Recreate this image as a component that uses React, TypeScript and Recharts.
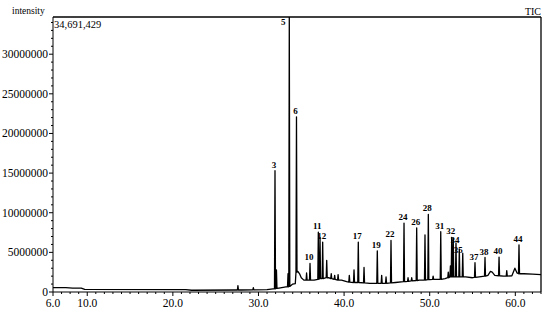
import React from 'react';
import { LineChart, Line, XAxis, YAxis, ReferenceLine } from 'recharts';

// baseline between peaks: retention time (min) and intensity (millions)
const baseTimes = [
  6.0, 7.5, 8.3, 9.3, 9.7, 21.5, 22.2, 27.3, 28.0, 31.0, 31.7, 32.4, 33.2, 34.0, 34.3,
  34.6, 34.8, 35.0, 35.3, 36.5, 38.2, 39.7, 40.3, 41.4, 43.0, 44.6, 46.0, 47.2, 48.8,
  50.0, 51.0, 51.8, 54.2, 55.0, 56.0, 56.8, 57.1, 57.3, 57.6, 58.6, 59.6, 59.95, 60.2,
  61.0, 62.0, 63.0,
];
const baseValues = [
  0.55, 0.55, 0.5, 0.5, 0.32, 0.3, 0.22, 0.25, 0.25, 0.3, 0.4, 0.5, 0.65, 1.0, 1.05,
  2.6, 2.3, 1.8, 1.5, 1.5, 1.8, 1.5, 1.3, 1.2, 1.1, 1.1, 1.2, 1.3, 1.5,
  1.55, 1.6, 1.7, 1.9, 1.8, 1.95, 2.1, 2.6, 2.5, 2.1, 2.0, 2.05, 3.0, 2.4,
  2.3, 2.25, 2.2,
];

// peaks: apex time (min), apex height and foot level (millions), peak number
const peakTimes = [
  27.6, 29.4, 31.93, 32.1, 33.45, 33.6, 34.44, 35.62, 36.02, 36.99, 37.19, 37.5, 37.97,
  38.5, 38.9, 39.3, 40.61, 41.16, 41.66, 42.33, 43.88, 44.39, 44.9, 45.48, 47.0, 47.47,
  47.9, 48.48, 49.45, 49.84, 50.4, 51.29, 52.17, 52.42, 52.57, 52.75, 53.07, 53.46,
  53.86, 55.29, 56.46, 58.1, 59.0, 60.43,
];
const peakHeights = [
  0.8, 0.55, 15.3, 2.8, 2.3, 34.691429, 22.1, 2.4, 3.6, 7.55, 6.9, 6.3, 4.0,
  2.3, 2.1, 2.2, 2.1, 2.8, 6.3, 3.1, 5.2, 2.1, 1.9, 6.5, 8.7, 1.8,
  1.8, 8.1, 7.2, 9.8, 2.0, 7.6, 2.5, 3.3, 6.9, 6.8, 6.2, 5.4,
  4.9, 3.7, 4.35, 4.4, 2.7, 5.95,
];
const peakBases = [
  0.25, 0.27, 0.4, 0.45, 0.65, 0.7, 2.5, 1.5, 1.5, 1.6, 1.7, 1.7, 1.8,
  1.7, 1.6, 1.5, 1.25, 1.2, 1.2, 1.15, 1.1, 1.1, 1.1, 1.15, 1.3, 1.35,
  1.4, 1.45, 1.5, 1.55, 1.6, 1.6, 1.8, 1.9, 1.9, 1.9, 1.9, 1.9,
  1.9, 1.85, 2.0, 2.05, 2.0, 2.3,
];
const peakLabels = [
  '', '', '3', '', '', '5', '6', '', '10', '11', '', '12', '',
  '', '', '', '', '', '17', '', '19', '', '', '22', '24', '',
  '', '26', '', '28', '', '31', '', '', '32', '', '34', '35',
  '', '37', '38', '40', '', '44',
];

const yMax = 34691429;
const xMajorTicks = [6, 10, 20, 30, 40, 50, 60];
const xTicks = Array.from({ length: 58 }, (_, i) => 6 + i);
const yTicks = Array.from({ length: 35 }, (_, i) => i * 1000000);

const FONT = '"Liberation Serif", "DejaVu Serif", serif';
const HALF = 0.06;

type Pt = { t: number; v?: number; lv?: number; label?: string };

const points: Pt[] = [];
baseTimes.forEach((t, i) => points.push({ t, v: baseValues[i] * 1e6 }));
let prevT = -99;
let prevLv = 0;
peakTimes.forEach((t, i) => {
  const b = peakBases[i] * 1e6;
  const h = Math.min(Math.round(peakHeights[i] * 1e6), yMax);
  points.push({ t: t - HALF, v: b });
  const p: Pt = { t, v: h };
  if (peakLabels[i]) {
    // a label right after a taller neighbour steps down so they don't overlap
    let lv = h;
    if (t - prevT < 1.0 && prevLv >= h) lv = Math.min(h, prevLv - 1150000);
    p.lv = lv;
    p.label = peakLabels[i];
    prevT = t;
    prevLv = lv;
  }
  points.push(p);
  points.push({ t: t + HALF, v: b });
});
points.sort((a, b) => a.t - b.t);

const XTick = ({ x, y, payload }: any) => {
  const major = xMajorTicks.includes(payload.value);
  return (
    <g>
      <line x1={x} x2={x} y1={y} y2={y + (major ? 4 : 2)} stroke="#000" />
      {major && (
        <text x={x} y={y + 15} textAnchor="middle" fontSize={11.5} fontFamily={FONT} fill="#000">
          {payload.value.toFixed(1)}
        </text>
      )}
    </g>
  );
};

const YTick = ({ x, y, payload }: any) => {
  const major = payload.value % 5000000 === 0;
  return (
    <g>
      <line x1={x - (major ? 4 : 2)} x2={x} y1={y} y2={y} stroke="#000" />
      {major && (
        <text x={x - 5} y={y} dy="0.35em" textAnchor="end" fontSize={11.5} fontFamily={FONT} fill="#000">
          {payload.value}
        </text>
      )}
    </g>
  );
};

const PeakLabel = (props: any) => {
  const { cx, cy, payload, index } = props;
  if (!payload || !payload.label || cy == null) return <g key={index} />;
  const atTop = payload.lv >= yMax;
  return (
    <text
      key={index}
      x={atTop ? cx - 6 : cx - 1}
      y={atTop ? cy + 8 : cy - 3}
      textAnchor="middle"
      fontSize={9}
      fontWeight="bold"
      fontFamily={FONT}
      fill="#000"
    >
      {payload.label}
    </text>
  );
};

export default function App() {
  return (
    <div style={{ position: 'absolute', left: 0, top: 0, width: 550, height: 311, background: '#fff' }}>
      <LineChart width={550} height={311} data={points} margin={{ top: 17, right: 9, left: 0, bottom: 0 }}>
        <XAxis
          dataKey="t"
          type="number"
          domain={[6, 63]}
          ticks={xTicks}
          interval={0}
          height={19}
          tickLine={false}
          tickSize={0}
          tickMargin={0}
          axisLine={{ stroke: '#000' }}
          tick={<XTick />}
        />
        <YAxis
          type="number"
          domain={[0, yMax]}
          ticks={yTicks}
          interval={0}
          width={53}
          tickLine={false}
          tickSize={0}
          tickMargin={0}
          axisLine={{ stroke: '#000' }}
          tick={<YTick />}
          allowDataOverflow
        />
        <ReferenceLine y={yMax} stroke="#000" strokeWidth={1.3} />
        <ReferenceLine x={63} stroke="#000" strokeWidth={1.3} />
        <Line
          type="linear"
          dataKey="v"
          stroke="#000"
          strokeWidth={1.3}
          strokeLinejoin="round"
          dot={false}
          activeDot={false}
          connectNulls
          isAnimationActive={false}
        />
        <Line
          type="linear"
          dataKey="lv"
          stroke="none"
          dot={PeakLabel}
          activeDot={false}
          isAnimationActive={false}
        />
      </LineChart>
      <svg width={550} height={311} style={{ position: 'absolute', left: 0, top: 0, pointerEvents: 'none' }}>
        <text x={12} y={14} fontSize={9.5} fontFamily={FONT} fill="#000">intensity</text>
        <text x={54} y={28} fontSize={10.5} fontFamily={FONT} fill="#000">34,691,429</text>
        <text x={541} y={15} textAnchor="end" fontSize={10} fontFamily={FONT} fill="#000">TIC</text>
      </svg>
    </div>
  );
}
